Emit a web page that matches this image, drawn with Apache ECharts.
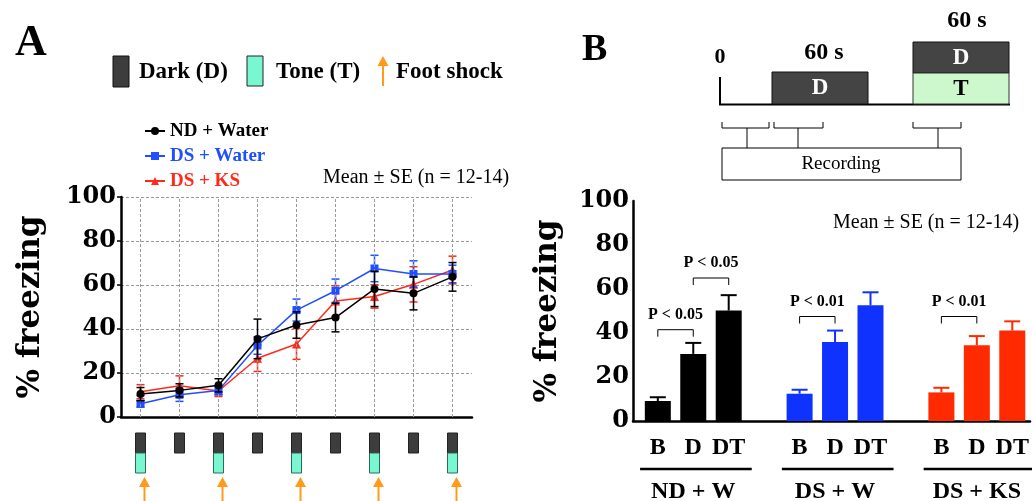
<!DOCTYPE html>
<html>
<head>
<meta charset="utf-8">
<script src="https://cdn.jsdelivr.net/npm/echarts@6/dist/echarts.min.js"></script>
<style>
  html, body { margin: 0; padding: 0; background: #fff; }
  #chart { width: 1032px; height: 501px; }
</style>
</head>
<body>
<div id="chart"></div>
<script>
// Panel A: freezing across the nine conditioning trials
const trials = ['1', '2', '3', '4', '5', '6', '7', '8', '9'];
const ndWater = [10.4, 12.1, 14.4, 35.5, 41.8, 45.2, 58.2, 56.2, 63.7];
const ndWaterSE = [3, 3, 3, 9, 6, 6.5, 8, 7.5, 6.5];
const dsWater = [6.0, 10.1, 12.1, 32.5, 48.6, 57.4, 67.5, 65.0, 65.0];
const dsWaterSE = [1.5, 3, 2, 4, 5, 5.3, 6, 6, 4];
const dsKs = [11.5, 14.2, 11.8, 26.7, 33.2, 52.7, 54.8, 60.3, 66.8];
const dsKsSE = [3.2, 4.5, 2.5, 6, 7, 7, 5.3, 8, 6.3];
const darkTrials = [0, 1, 2, 3, 4, 5, 6, 7, 8];
const toneTrials = [0, 2, 4, 6, 8];

// Panel B: baseline / dark / dark+tone freezing per group
const phaseLabels = ['B', 'D', 'DT'];
const groupLabels = ['ND + W', 'DS + W', 'DS + KS'];
const groupSlots = [0, 4, 8];
const freezeND = [9.1, 30.5, 50.2];
const freezeNDSE = [1.7, 5, 7];
const freezeDSW = [12.4, 35.9, 52.6];
const freezeDSWSE = [1.8, 5.2, 5.9];
const freezeDSK = [13.0, 34.4, 41.1];
const freezeDSKSE = [2.1, 4.2, 4.2];
const sigBrackets = [
  { from: 0, to: 1, y: 41.5, label: 'P < 0.05' },
  { from: 1, to: 2, y: 65, label: 'P < 0.05' },
  { from: 4, to: 5, y: 47.5, label: 'P < 0.01' },
  { from: 8, to: 9, y: 47.5, label: 'P < 0.01' }
];

const BLACK = '#000000', BLUE = '#1f4fff', RED = '#ff2a1a';
const BAR_BLUE = '#0f32ff', BAR_RED = '#ff2a00';
const DARK = '#3d3d3d', TONE = '#78f7d0', SHOCK = '#ff9a1a';
const SERIF = '"Liberation Serif", "Times New Roman", serif';
const NUMS = '"DejaVu Serif", serif';

const groupColors = [BLACK, BAR_BLUE, BAR_RED];
const groupValues = [freezeND, freezeDSW, freezeDSK];
const groupSE = [freezeNDSE, freezeDSWSE, freezeDSKSE];

const barData = [];
const barErr = [];
groupValues.forEach((vals, g) => {
  vals.forEach((v, i) => {
    const pos = groupSlots[g] + i;
    barData.push({ value: [pos, v], itemStyle: { color: groupColors[g] } });
    barErr.push([pos, v, groupSE[g][i], g]);
  });
});

function errorItems(vals, se) {
  return vals.map((v, i) => [i, v, se[i]]);
}

function errorRender(color) {
  return function (params, api) {
    const x = api.value(0), v = api.value(1), e = api.value(2);
    const hi = api.coord([x, v + e]);
    const lo = api.coord([x, v - e]);
    const st = { stroke: color, lineWidth: 1.5 };
    return {
      type: 'group',
      children: [
        { type: 'line', shape: { x1: hi[0], y1: hi[1], x2: lo[0], y2: lo[1] }, style: st },
        { type: 'line', shape: { x1: hi[0] - 4, y1: hi[1], x2: hi[0] + 4, y2: hi[1] }, style: st },
        { type: 'line', shape: { x1: lo[0] - 4, y1: lo[1], x2: lo[0] + 4, y2: lo[1] }, style: st }
      ]
    };
  };
}

const gridLineStyle = { color: '#9a9a9a', type: [3, 2], width: 1 };

const chart = echarts.init(document.getElementById('chart'));

const schematic = [
  // Panel letters
  { type: 'text', left: 15, top: 22, style: { text: 'A', font: 'bold 44px ' + SERIF, fill: '#000' } },
  { type: 'text', left: 582, top: 31, style: { text: 'B', font: 'bold 38px ' + SERIF, fill: '#000' } },
  // Panel A stimulus legend
  { type: 'rect', shape: { x: 113, y: 56, width: 16, height: 31 }, style: { fill: DARK, stroke: '#111', lineWidth: 1 } },
  { type: 'text', x: 139, y: 72, style: { text: 'Dark (D)', font: 'bold 23px ' + SERIF, fill: '#000', verticalAlign: 'middle' } },
  { type: 'rect', shape: { x: 247, y: 56, width: 16, height: 30 }, style: { fill: TONE, stroke: '#222', lineWidth: 1 } },
  { type: 'text', x: 276, y: 72, style: { text: 'Tone (T)', font: 'bold 23px ' + SERIF, fill: '#000', verticalAlign: 'middle' } },
  { type: 'line', shape: { x1: 383, y1: 62, x2: 383, y2: 86 }, style: { stroke: SHOCK, lineWidth: 2 } },
  { type: 'polygon', shape: { points: [[383, 56], [377.5, 66], [388.5, 66]] }, style: { fill: SHOCK } },
  { type: 'text', x: 396, y: 72, style: { text: 'Foot shock', font: 'bold 23px ' + SERIF, fill: '#000', verticalAlign: 'middle' } },
  { type: 'text', x: 323, y: 178, style: { text: 'Mean \u00b1 SE (n = 12-14)', font: '20px ' + SERIF, fill: '#000', verticalAlign: 'middle' } },
  // Panel B protocol
  { type: 'text', x: 720, y: 57, style: { text: '0', font: 'bold 22px ' + SERIF, fill: '#000', align: 'center', verticalAlign: 'middle' } },
  { type: 'line', shape: { x1: 720, y1: 77, x2: 720, y2: 105 }, style: { stroke: '#000', lineWidth: 2 } },
  { type: 'line', shape: { x1: 719, y1: 104.5, x2: 1010, y2: 104.5 }, style: { stroke: '#000', lineWidth: 2 } },
  { type: 'rect', shape: { x: 772, y: 72, width: 96, height: 32 }, style: { fill: '#444', stroke: '#111', lineWidth: 1 } },
  { type: 'text', x: 820, y: 88, style: { text: 'D', font: 'bold 23px ' + SERIF, fill: '#fff', align: 'center', verticalAlign: 'middle' } },
  { type: 'text', x: 824, y: 53, style: { text: '60 s', font: 'bold 24px ' + SERIF, fill: '#000', align: 'center', verticalAlign: 'middle' } },
  { type: 'rect', shape: { x: 913, y: 42, width: 96, height: 31 }, style: { fill: '#444', stroke: '#111', lineWidth: 1 } },
  { type: 'rect', shape: { x: 913, y: 73, width: 96, height: 31 }, style: { fill: '#cdf7cd', stroke: '#333', lineWidth: 1 } },
  { type: 'text', x: 961, y: 58, style: { text: 'D', font: 'bold 23px ' + SERIF, fill: '#fff', align: 'center', verticalAlign: 'middle' } },
  { type: 'text', x: 961, y: 89, style: { text: 'T', font: 'bold 23px ' + SERIF, fill: '#000', align: 'center', verticalAlign: 'middle' } },
  { type: 'text', x: 967, y: 21, style: { text: '60 s', font: 'bold 24px ' + SERIF, fill: '#000', align: 'center', verticalAlign: 'middle' } },
  { type: 'polyline', shape: { points: [[722, 122], [722, 128], [769, 128], [769, 122]] }, style: { stroke: '#000', lineWidth: 1, fill: null } },
  { type: 'polyline', shape: { points: [[774, 122], [774, 128], [823, 128], [823, 122]] }, style: { stroke: '#000', lineWidth: 1, fill: null } },
  { type: 'polyline', shape: { points: [[913, 122], [913, 128], [961, 128], [961, 122]] }, style: { stroke: '#000', lineWidth: 1, fill: null } },
  { type: 'line', shape: { x1: 747, y1: 128, x2: 747, y2: 148 }, style: { stroke: '#000', lineWidth: 1 } },
  { type: 'line', shape: { x1: 798, y1: 128, x2: 798, y2: 148 }, style: { stroke: '#000', lineWidth: 1 } },
  { type: 'line', shape: { x1: 938, y1: 128, x2: 938, y2: 148 }, style: { stroke: '#000', lineWidth: 1 } },
  { type: 'rect', shape: { x: 722, y: 148, width: 239, height: 32 }, style: { fill: '#fff', stroke: '#000', lineWidth: 1 } },
  { type: 'text', x: 841, y: 164, style: { text: 'Recording', font: '19px ' + SERIF, fill: '#000', align: 'center', verticalAlign: 'middle' } },
  { type: 'text', x: 833, y: 223, style: { text: 'Mean \u00b1 SE (n = 12-14)', font: '20px ' + SERIF, fill: '#000', verticalAlign: 'middle' } }
];

const option = {
  animation: false,
  backgroundColor: '#fff',
  graphic: schematic,
  legend: {
    orient: 'vertical',
    left: 139,
    top: 116,
    itemWidth: 20,
    itemHeight: 10,
    itemGap: 5,
    textStyle: { fontFamily: SERIF, fontWeight: 'bold', fontSize: 19, lineHeight: 20 },
    data: [
      { name: 'ND + Water', textStyle: { color: BLACK } },
      { name: 'DS + Water', textStyle: { color: BLUE } },
      { name: 'DS + KS', textStyle: { color: RED } }
    ]
  },
  grid: [
    { left: 121, top: 197, width: 351, height: 220 },
    { left: 633, top: 201, width: 397, height: 220 }
  ],
  xAxis: [
    {
      gridIndex: 0, type: 'category', data: trials, boundaryGap: true,
      axisLine: { lineStyle: { color: '#000', width: 2.5 } },
      axisTick: { alignWithLabel: true, length: 4, lineStyle: { color: '#000', width: 1.5 } },
      axisLabel: { show: false },
      splitLine: { show: false }
    },
    {
      gridIndex: 1, type: 'value', min: -0.7, max: 10.5,
      axisLine: { lineStyle: { color: '#000', width: 2.5 } },
      axisTick: { show: false }, axisLabel: { show: false }, splitLine: { show: false }
    }
  ],
  yAxis: [
    {
      gridIndex: 0, type: 'value', min: 0, max: 100, interval: 20,
      name: '% freezing', nameLocation: 'middle', nameGap: 75, nameRotate: 90,
      nameTextStyle: { fontFamily: NUMS, fontWeight: 'bold', fontSize: 31, color: '#000' },
      axisLine: { show: true, onZero: false, lineStyle: { color: '#000', width: 2.5 } },
      axisTick: { show: true, length: 4, lineStyle: { color: '#000', width: 1.5 } },
      axisLabel: { margin: 5, fontFamily: NUMS, fontWeight: 'bold', fontSize: 24, color: '#000' },
      splitLine: { show: true, lineStyle: gridLineStyle }
    },
    {
      gridIndex: 1, type: 'value', min: 0, max: 100, interval: 20,
      name: '% freezing', nameLocation: 'middle', nameGap: 70, nameRotate: 90,
      nameTextStyle: { fontFamily: NUMS, fontWeight: 'bold', fontSize: 31, color: '#000' },
      axisLine: { show: true, onZero: false, lineStyle: { color: '#000', width: 2.5 } },
      axisTick: { show: false },
      axisLabel: { margin: 4, fontFamily: NUMS, fontWeight: 'bold', fontSize: 24, color: '#000' },
      splitLine: { show: false }
    }
  ],
  series: [
    {
      name: 'ND + Water', type: 'line', xAxisIndex: 0, yAxisIndex: 0, data: ndWater,
      symbol: 'circle', symbolSize: 8, z: 5,
      lineStyle: { color: BLACK, width: 1.5 }, itemStyle: { color: BLACK },
      markLine: {
        silent: true, symbol: 'none', label: { show: false },
        lineStyle: gridLineStyle,
        data: trials.map(t => ({ xAxis: t }))
      }
    },
    {
      name: 'DS + Water', type: 'line', xAxisIndex: 0, yAxisIndex: 0, data: dsWater,
      symbol: 'rect', symbolSize: 8, z: 4,
      lineStyle: { color: BLUE, width: 1.5 }, itemStyle: { color: BLUE }
    },
    {
      name: 'DS + KS', type: 'line', xAxisIndex: 0, yAxisIndex: 0, data: dsKs,
      symbol: 'triangle', symbolSize: 9, z: 3,
      lineStyle: { color: RED, width: 1.5 }, itemStyle: { color: RED }
    },
    { type: 'custom', xAxisIndex: 0, yAxisIndex: 0, data: errorItems(ndWater, ndWaterSE), renderItem: errorRender(BLACK), z: 5, clip: false, silent: true },
    { type: 'custom', xAxisIndex: 0, yAxisIndex: 0, data: errorItems(dsWater, dsWaterSE), renderItem: errorRender(BLUE), z: 4, clip: false, silent: true },
    { type: 'custom', xAxisIndex: 0, yAxisIndex: 0, data: errorItems(dsKs, dsKsSE), renderItem: errorRender(RED), z: 3, clip: false, silent: true },
    {
      // dark periods under each trial
      type: 'custom', xAxisIndex: 0, yAxisIndex: 0, clip: false, silent: true,
      data: darkTrials.map(i => [i, 0]),
      renderItem: (params, api) => {
        const p = api.coord([api.value(0), 0]);
        return { type: 'rect', shape: { x: p[0] - 5, y: p[1] + 16, width: 10, height: 20 },
          style: { fill: DARK, stroke: '#222', lineWidth: 1 } };
      }
    },
    {
      // tone + shock trials
      type: 'custom', xAxisIndex: 0, yAxisIndex: 0, clip: false, silent: true,
      data: toneTrials.map(i => [i, 0]),
      renderItem: (params, api) => {
        const p = api.coord([api.value(0), 0]);
        return {
          type: 'group',
          children: [
            { type: 'rect', shape: { x: p[0] - 5, y: p[1] + 36, width: 10, height: 20 },
              style: { fill: TONE, stroke: '#2d6a58', lineWidth: 1 } },
            { type: 'line', shape: { x1: p[0] + 4, y1: p[1] + 68, x2: p[0] + 4, y2: p[1] + 86 },
              style: { stroke: SHOCK, lineWidth: 2 } },
            { type: 'polygon', shape: { points: [[p[0] + 4, p[1] + 60], [p[0] - 1.5, p[1] + 70], [p[0] + 9.5, p[1] + 70]] },
              style: { fill: SHOCK } }
          ]
        };
      }
    },
    {
      name: 'freezing', type: 'bar', xAxisIndex: 1, yAxisIndex: 1, data: barData, barWidth: 26, z: 3
    },
    {
      // upper SE bars for panel B
      type: 'custom', xAxisIndex: 1, yAxisIndex: 1, data: barErr, clip: false, silent: true, z: 2,
      renderItem: (params, api) => {
        const x = api.value(0), v = api.value(1), e = api.value(2);
        const color = groupColors[api.value(3)];
        const top = api.coord([x, v + e]);
        const base = api.coord([x, v]);
        const st = { stroke: color, lineWidth: 2 };
        return {
          type: 'group',
          children: [
            { type: 'line', shape: { x1: top[0], y1: top[1], x2: base[0], y2: base[1] }, style: st },
            { type: 'line', shape: { x1: top[0] - 8, y1: top[1], x2: top[0] + 8, y2: top[1] }, style: st }
          ]
        };
      }
    },
    {
      // significance brackets
      type: 'custom', xAxisIndex: 1, yAxisIndex: 1, clip: false, silent: true, z: 6,
      data: sigBrackets.map(b => [b.from, b.to, b.y]),
      renderItem: (params, api) => {
        const a = api.coord([api.value(0), api.value(2)]);
        const b = api.coord([api.value(1), api.value(2)]);
        const label = sigBrackets[params.dataIndex].label;
        return {
          type: 'group',
          children: [
            { type: 'polyline', shape: { points: [[a[0], a[1] + 7], [a[0], a[1]], [b[0], b[1]], [b[0], b[1] + 7]] },
              style: { stroke: '#000', lineWidth: 1, fill: null } },
            { type: 'text', x: (a[0] + b[0]) / 2, y: a[1] - 15,
              style: { text: label, font: 'bold 16px ' + SERIF, fill: '#000', align: 'center', verticalAlign: 'middle' } }
          ]
        };
      }
    },
    {
      // phase labels under bars
      type: 'custom', xAxisIndex: 1, yAxisIndex: 1, clip: false, silent: true,
      data: barErr.map((d, i) => [d[0], i % 3]),
      renderItem: (params, api) => {
        const p = api.coord([api.value(0), 0]);
        return { type: 'text', x: p[0], y: p[1] + 27,
          style: { text: phaseLabels[api.value(1)], font: 'bold 24px ' + SERIF, fill: '#000', align: 'center', verticalAlign: 'middle' } };
      }
    },
    {
      // group labels with rule
      type: 'custom', xAxisIndex: 1, yAxisIndex: 1, clip: false, silent: true,
      data: groupSlots.map((s, g) => [s, g]),
      renderItem: (params, api) => {
        const s = api.value(0);
        const l = api.coord([s - 0.5, 0]);
        const r = api.coord([s + 2.65, 0]);
        const c = api.coord([s + 1, 0]);
        return {
          type: 'group',
          children: [
            { type: 'line', shape: { x1: l[0], y1: l[1] + 48, x2: r[0], y2: r[1] + 48 }, style: { stroke: '#000', lineWidth: 2.5 } },
            { type: 'text', x: c[0], y: c[1] + 71,
              style: { text: groupLabels[api.value(1)], font: 'bold 24px ' + SERIF, fill: '#000', align: 'center', verticalAlign: 'middle' } }
          ]
        };
      }
    }
  ]
};

chart.setOption(option);
</script>
</body>
</html>
